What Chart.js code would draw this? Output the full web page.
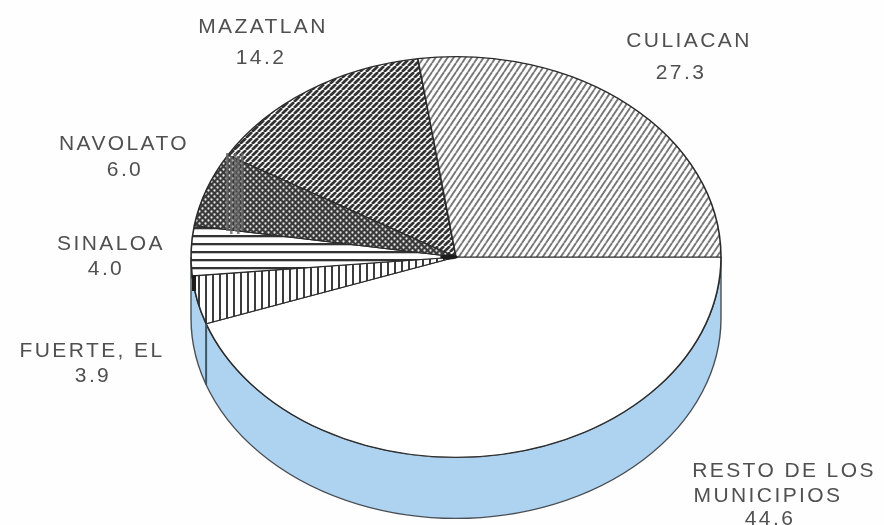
<!DOCTYPE html>
<html lang="es">
<head>
  <meta charset="UTF-8">
  <title>Municipios de Sinaloa</title>
  <script src="https://cdn.jsdelivr.net/npm/chart.js"></script>
  <style>
    html, body { margin: 0; padding: 0; background: #fefefe; }
    #wrap { width: 884px; height: 525px; }
    canvas { filter: blur(0.4px); }
  </style>
</head>
<body>
  <div id="wrap"><canvas id="pie" width="884" height="525"></canvas></div>

  <script>
    // clockwise from 3 o'clock, as printed
    const categories = ["RESTO DE LOS MUNICIPIOS", "FUERTE, EL", "SINALOA", "NAVOLATO", "MAZATLAN", "CULIACAN"];
    const shares = [44.6, 3.9, 4.0, 6.0, 14.2, 27.3];

    // where each caption sits: one [x, y] per text line, last one is the value
    const captionLines = [
      [[784, 471], [768, 496], [770, 519]],
      [[92, 351], [93, 376]],
      [[111, 244], [106, 269]],
      [[124, 144], [125, 170]],
      [[263, 27], [261, 58]],
      [[689, 41], [681, 73]]
    ];

    const RX = 265;      // the pie is an ellipse, Chart.js gives a circle so x is stretched
    const DEPTH = 61;

    let stretch = 1;

    function tile(w, h, paint) {
      const c = document.createElement("canvas");
      c.width = w;
      c.height = h;
      const g = c.getContext("2d");
      g.fillStyle = "#ffffff";
      g.fillRect(0, 0, w, h);
      paint(g, w, h);
      return document.createElement("canvas").getContext("2d").createPattern(c, "repeat");
    }

    function diagonal(g, w, h, color, width) {
      g.strokeStyle = color;
      g.lineWidth = width;
      for (let i = -1; i <= 1; i++) {
        g.beginPath();
        g.moveTo(i * w, h);
        g.lineTo(i * w + w, 0);
        g.stroke();
      }
    }

    const patterns = [
      "#ffffff",
      // fuerte: vertical rules
      tile(7, 8, g => {
        g.fillStyle = "#3c3c3c";
        g.fillRect(2, 0, 2, 8);
      }),
      // sinaloa: horizontal rules
      tile(8, 8, g => {
        g.fillStyle = "#333333";
        g.fillRect(0, 3, 8, 2);
        g.fillStyle = "#c4c4c4";
        g.fillRect(0, 5, 8, 1);
      }),
      // navolato: fine dots
      tile(6, 6, g => {
        g.fillStyle = "#3a3a3a";
        g.fillRect(0, 0, 6, 6);
        g.fillStyle = "#e8e8e8";
        [[1.5, 1.5], [4.5, 4.5]].forEach(d => {
          g.beginPath();
          g.arc(d[0], d[1], 1.15, 0, Math.PI * 2);
          g.fill();
        });
      }),
      // mazatlan: dense diagonal
      tile(6, 6, (g, w, h) => diagonal(g, w, h, "#333333", 2.7)),
      // culiacan: open diagonal
      tile(6, 9, (g, w, h) => diagonal(g, w, h, "#777777", 1.9))
    ];

    // draws the blue side wall, then squeezes the pie into the ellipse
    const ellipsePie = {
      id: "ellipsePie",
      beforeDatasetsDraw(chart) {
        const ctx = chart.ctx;
        const arc = chart.getDatasetMeta(0).data[0];
        const ry = arc.outerRadius;
        stretch = RX / ry;
        // undo the stretch for the hatching so tiles land on whole pixels
        const shift = arc.x - arc.x / stretch;
        patterns.forEach(p => {
          if (p instanceof CanvasPattern) p.setTransform(new DOMMatrix().translate(shift, 0).scale(1 / stretch, 1));
        });

        ctx.save();
        ctx.beginPath();
        ctx.ellipse(arc.x, arc.y + DEPTH, RX, ry, 0, 0, Math.PI);
        ctx.lineTo(arc.x - RX, arc.y);
        ctx.ellipse(arc.x, arc.y, RX, ry, 0, Math.PI, 0, true);
        ctx.closePath();
        ctx.fillStyle = "#aed3f1";
        ctx.fill();
        ctx.strokeStyle = "#4a4f55";
        ctx.lineWidth = 1.4;
        ctx.stroke();
        ctx.restore();

        ctx.save();
        ctx.translate(arc.x, arc.y);
        ctx.scale(stretch, 1);
        ctx.translate(-arc.x, -arc.y);
      },
      afterDatasetsDraw(chart) {
        const ctx = chart.ctx;
        ctx.restore();
        const arc = chart.getDatasetMeta(0).data[0];
        const ry = arc.outerRadius;

        // edge of the big slice carried down the wall
        const ex = arc.x + RX * Math.cos(arc.endAngle);
        const ey = arc.y + ry * Math.sin(arc.endAngle);
        ctx.save();
        ctx.strokeStyle = "#3d5666";
        ctx.lineWidth = 2;
        ctx.beginPath();
        ctx.moveTo(ex, ey);
        ctx.lineTo(ex, ey + DEPTH);
        ctx.stroke();

        // scan smudges of the printed original
        ctx.fillStyle = "#1c1c1c";
        ctx.beginPath();
        ctx.ellipse(arc.x - 7, arc.y, 9, 2.6, 0, 0, Math.PI * 2);
        ctx.fill();
        ctx.fillRect(arc.x - RX + 1, arc.y + 18, 4, 16);
        ctx.fillStyle = "rgba(105,105,105,0.8)";
        [226, 230, 234, 237, 241].forEach((x, i) => {
          ctx.fillRect(x, 153 + (i % 2) * 3, 2.6, 78);
        });
        ctx.restore();
      },
      afterDraw(chart) {
        const ctx = chart.ctx;
        ctx.save();
        ctx.fillStyle = "#505050";
        ctx.font = "21px 'Liberation Sans', Arial, sans-serif";
        ctx.letterSpacing = "2.4px";
        ctx.textAlign = "center";
        ctx.textBaseline = "middle";
        captionLines.forEach((lines, i) => {
          const words = i === 0 ? ["RESTO DE LOS", "MUNICIPIOS"] : [categories[i]];
          words.concat(shares[i].toFixed(1)).forEach((t, k) => {
            ctx.fillText(t, lines[k][0], lines[k][1]);
          });
        });
        ctx.restore();
      }
    };

    new Chart(document.getElementById("pie"), {
      type: "pie",
      data: {
        labels: categories,
        datasets: [{
          data: shares,
          backgroundColor: patterns,
          borderColor: "#2b2b2b",
          borderWidth: 1.2
        }]
      },
      options: {
        responsive: false,
        animation: false,
        rotation: 90,
        layout: { padding: { left: 156, right: 128, top: 56, bottom: 67 } },
        plugins: { legend: { display: false }, tooltip: { enabled: false } }
      },
      plugins: [ellipsePie]
    });
  </script>
</body>
</html>
